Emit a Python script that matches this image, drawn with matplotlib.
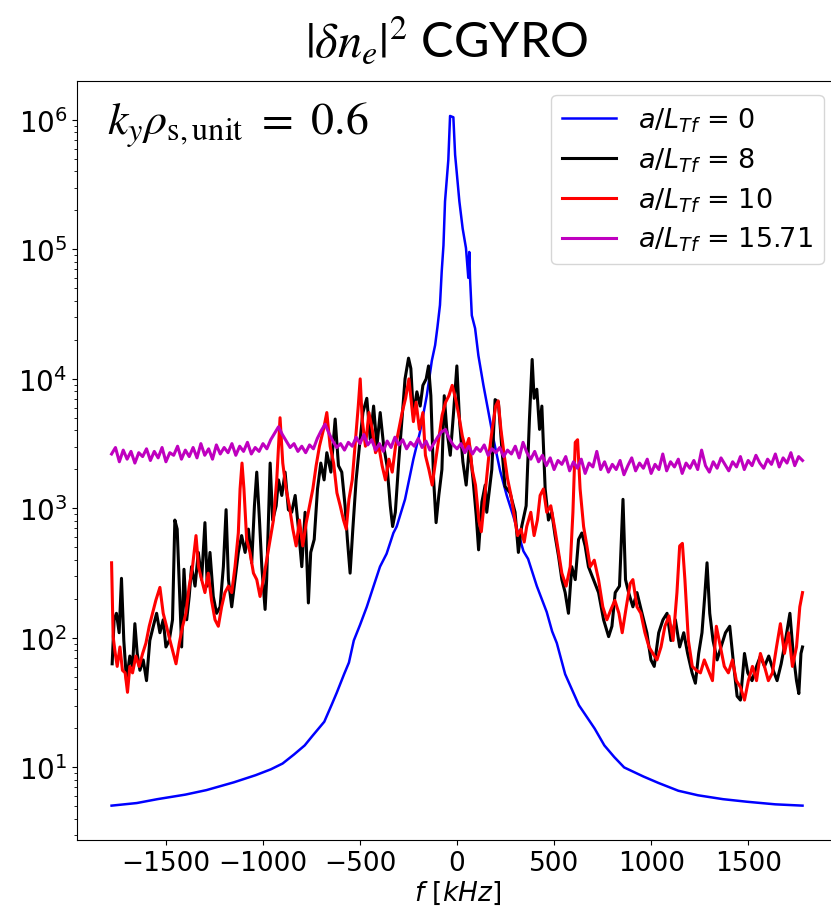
import numpy as np
import matplotlib
matplotlib.use("Agg")
import matplotlib.pyplot as plt

# ---------------- data (log10 of |dn_e|^2) ----------------
f_blue = [-1780, -1650, -1544, -1400, -1291, -1150, -1038, -960, -899, -840,
          -785, -747, -684, -646, -620, -582, -557, -532, -500, -465,
          -430, -397, -363, -328, -311, -268, -225, -191, -156, -130,
          -113, -101, -88, -79, -70, -62, -45, -36, -19, -10,
          -2, 12, 29, 46, 58, 63, 67, 76, 93, 110,
          136, 161, 187, 222, 256, 290, 342, 366, 411, 462,
          490, 514, 557, 628, 709, 759, 810, 861, 960, 1038,
          1140, 1241, 1370, 1494, 1640, 1780]
blue_log10 = [0.705, 0.725, 0.755, 0.79, 0.825, 0.885, 0.94, 0.985, 1.03, 1.10,
              1.17, 1.24, 1.353, 1.484, 1.576, 1.72, 1.81, 1.98, 2.10, 2.24,
              2.40, 2.55, 2.65, 2.81, 2.86, 3.07, 3.38, 3.59, 3.87, 4.14,
              4.26, 4.40, 4.57, 4.83, 5.03, 5.37, 5.69, 6.03, 6.02, 5.73,
              5.60, 5.37, 5.16, 5.01, 4.78, 4.98, 4.78, 4.49, 4.39, 4.18,
              3.95, 3.75, 3.54, 3.29, 3.10, 2.94, 2.67, 2.61, 2.40, 2.20,
              2.05, 1.96, 1.72, 1.48, 1.30, 1.17, 1.08, 1.0, 0.93, 0.88,
              0.82, 0.785, 0.755, 0.735, 0.715, 0.705]

f_black = [-1777, -1767, -1755, -1741, -1729, -1717, -1703, -1686, -1672, -1660,
           -1648, -1634, -1617, -1600, -1583, -1565, -1548, -1531, -1514, -1500,
           -1483, -1466, -1454, -1442, -1431, -1419, -1407, -1393, -1380, -1368,
           -1350, -1333, -1316, -1299, -1287, -1273, -1256, -1239, -1221, -1204,
           -1190, -1178, -1161, -1144, -1127, -1110, -1092, -1075, -1058, -1044,
           -1032, -1018, -1006, -989, -981, -963, -950, -932, -920, -903,
           -886, -869, -852, -834, -817, -800, -783, -766, -754, -736,
           -719, -702, -685, -671, -650, -628, -611, -594, -577, -565,
           -551, -537, -520, -503, -485, -465, -447, -430, -413, -396,
           -378, -361, -344, -332, -318, -301, -284, -268, -250, -238,
           -225, -207, -190, -176, -159, -147, -135, -121, -108, -94,
           -78, -66, -53, -35, -18, -1, 13, 30, 47, 64,
           82, 99, 111, 128, 145, 153, 179, 196, 213, 230,
           247, 273, 299, 316, 333, 356, 373, 387, 397, 411,
           425, 437, 454, 471, 488, 505, 523, 540, 557, 574,
           591, 609, 626, 643, 660, 677, 703, 729, 755, 781,
           798, 815, 837, 855, 868, 884, 906, 927, 953, 978,
           999, 1016, 1039, 1061, 1082, 1102, 1125, 1147, 1168, 1188,
           1211, 1228, 1245, 1262, 1276, 1288, 1302, 1319, 1340, 1360,
           1383, 1405, 1426, 1443, 1460, 1481, 1498, 1520, 1543, 1563,
           1584, 1606, 1629, 1649, 1670, 1692, 1715, 1732, 1749, 1761,
           1772, 1780]
black_log10 = [1.80, 2.14, 2.19, 2.04, 2.46, 1.98, 1.67, 1.86, 1.78, 2.11,
               1.88, 1.75, 1.83, 1.67, 1.98, 2.09, 2.19, 2.04, 2.14, 1.93,
               1.98, 2.14, 2.91, 2.84, 2.40, 1.93, 2.53, 2.14, 2.32, 2.55,
               2.40, 2.66, 2.45, 2.89, 2.40, 2.66, 2.32, 2.19, 2.24, 2.55,
               2.99, 2.45, 2.24, 2.45, 2.66, 2.79, 2.66, 2.84, 2.58, 3.02,
               3.28, 2.91, 2.55, 2.22, 2.45, 3.35, 2.91, 3.02, 3.22, 3.10,
               3.28, 2.99, 2.97, 3.10, 2.84, 2.55, 2.97, 2.27, 2.66, 2.76,
               3.15, 3.35, 3.22, 3.43, 3.28, 3.69, 3.33, 3.28, 3.02, 2.76,
               2.50, 2.84, 3.22, 3.48, 3.74, 3.85, 3.53, 3.79, 3.48, 3.74,
               3.48, 3.33, 3.02, 2.86, 2.97, 3.35, 3.69, 4.00, 4.16, 4.08,
               3.72, 3.90, 3.79, 3.95, 4.00, 4.10, 3.87, 3.23, 2.89, 3.10,
               3.30, 3.87, 3.61, 3.41, 3.74, 4.10, 3.67, 3.36, 3.18, 3.49,
               3.23, 2.94, 2.68, 3.05, 3.18, 2.97, 3.30, 3.84, 3.82, 3.48,
               3.17, 3.12, 2.97, 2.66, 2.86, 3.02, 3.69, 4.15, 3.85, 3.92,
               3.61, 3.79, 3.15, 2.91, 2.97, 2.79, 2.63, 2.45, 2.35, 2.19,
               2.55, 2.45, 2.76, 2.81, 2.71, 2.55, 2.45, 2.35, 2.14, 2.01,
               2.09, 2.35, 2.40, 3.07, 2.45, 2.35, 2.24, 2.35, 2.19, 2.04,
               1.83, 1.78, 2.04, 2.14, 2.19, 1.98, 2.14, 1.93, 2.04, 1.88,
               1.73, 1.65, 1.88, 2.04, 2.32, 2.58, 2.19, 1.98, 1.83, 1.93,
               2.04, 2.09, 1.78, 1.55, 1.52, 1.88, 1.73, 1.67, 1.78, 1.86,
               1.78, 1.86, 1.75, 1.67, 1.80, 1.98, 2.19, 1.88, 1.67, 1.57,
               1.88, 1.93]

f_red = [-1780, -1772, -1761, -1751, -1737, -1724, -1710, -1698, -1686, -1672,
         -1655, -1638, -1620, -1603, -1586, -1569, -1552, -1531, -1514, -1497,
         -1479, -1462, -1448, -1431, -1414, -1397, -1380, -1363, -1345, -1332,
         -1316, -1299, -1282, -1265, -1247, -1230, -1213, -1196, -1178, -1161,
         -1144, -1127, -1118, -1108, -1098, -1084, -1067, -1049, -1032, -1015,
         -998, -981, -963, -946, -929, -912, -898, -881, -864, -846,
         -829, -812, -795, -777, -760, -743, -726, -709, -688, -671,
         -654, -636, -619, -602, -585, -571, -557, -540, -523, -509,
         -499, -489, -472, -454, -437, -420, -403, -386, -369, -351,
         -334, -317, -300, -283, -265, -248, -225, -211, -194, -176,
         -163, -145, -128, -111, -94, -77, -59, -42, -25, -8,
         9, 27, 44, 61, 78, 95, 113, 125, 140, 164,
         181, 199, 212, 226, 243, 260, 278, 295, 312, 329,
         346, 359, 380, 397, 414, 428, 445, 462, 483, 504,
         523, 540, 562, 583, 597, 609, 621, 634, 652, 669,
         686, 707, 729, 751, 772, 793, 813, 834, 851, 872,
         892, 906, 927, 947, 968, 989, 1009, 1030, 1051, 1071,
         1092, 1113, 1133, 1147, 1161, 1174, 1192, 1212, 1233, 1254,
         1274, 1295, 1316, 1336, 1357, 1377, 1398, 1419, 1439, 1460,
         1481, 1501, 1522, 1543, 1563, 1584, 1604, 1625, 1646, 1666,
         1687, 1708, 1728, 1749, 1766, 1780]
red_log10 = [2.58, 2.01, 1.88, 1.78, 1.93, 1.75, 1.73, 1.58, 1.78, 1.73,
             1.86, 1.78, 1.88, 1.96, 2.09, 2.19, 2.29, 2.39, 2.19, 2.09,
             1.98, 1.88, 1.80, 1.96, 2.09, 2.19, 2.40, 2.55, 2.79, 2.55,
             2.45, 2.35, 2.50, 2.29, 2.14, 2.09, 2.24, 2.35, 2.40, 2.35,
             2.55, 2.81, 3.15, 3.35, 3.15, 2.76, 2.66, 2.50, 2.45, 2.32,
             2.45, 2.60, 2.76, 2.91, 3.22, 3.70, 3.35, 3.15, 3.02, 2.84,
             2.71, 2.91, 2.71, 2.89, 3.02, 3.15, 3.33, 3.48, 3.61, 3.74,
             3.48, 3.35, 3.12, 3.02, 2.91, 2.84, 3.07, 3.22, 3.53, 3.79,
             4.00, 3.69, 3.48, 3.74, 3.61, 3.43, 3.48, 3.33, 3.22, 3.38,
             3.28, 3.48, 3.61, 3.74, 3.85, 4.00, 3.67, 3.82, 3.61, 3.74,
             3.41, 3.30, 3.18, 3.36, 3.54, 3.72, 3.82, 3.87, 3.95, 3.85,
             3.72, 3.56, 3.46, 3.54, 3.30, 3.18, 2.90, 2.82, 3.05, 3.41,
             3.61, 3.79, 3.83, 3.61, 3.41, 3.23, 3.10, 2.94, 2.79, 2.84,
             2.74, 2.86, 2.97, 2.79, 2.91, 3.10, 3.15, 2.97, 3.02, 2.84,
             2.66, 2.50, 2.40, 2.55, 2.97, 3.51, 3.53, 3.15, 2.86, 2.71,
             2.55, 2.60, 2.45, 2.24, 2.14, 2.22, 2.29, 2.19, 2.04, 2.24,
             2.42, 2.45, 2.24, 2.19, 2.04, 1.93, 1.88, 1.83, 1.93, 2.09,
             2.17, 1.98, 2.35, 2.71, 2.73, 2.45, 1.98, 1.78, 1.75, 1.73,
             1.83, 1.75, 1.67, 2.09, 1.93, 1.78, 1.73, 1.83, 1.67, 1.62,
             1.52, 1.67, 1.78, 1.67, 1.88, 1.78, 1.67, 1.73, 1.93, 2.11,
             1.88, 2.04, 1.78, 1.93, 2.24, 2.35]

f_mag = list(range(-1780, 1781, 20))
mag_log10 = [3.42, 3.47, 3.36, 3.45, 3.38, 3.44, 3.35, 3.43, 3.40, 3.46,
             3.37, 3.44, 3.39, 3.47, 3.36, 3.43, 3.41, 3.48, 3.38, 3.45,
             3.40, 3.47, 3.39, 3.50, 3.41, 3.46, 3.38, 3.49, 3.42, 3.47,
             3.43, 3.50, 3.41, 3.48, 3.44, 3.51, 3.42, 3.47, 3.44, 3.50,
             3.46, 3.53, 3.58, 3.63, 3.57, 3.52, 3.47, 3.50, 3.44, 3.48,
             3.43, 3.49, 3.46, 3.54, 3.60, 3.65, 3.58, 3.52, 3.47, 3.50,
             3.45, 3.51, 3.48, 3.55, 3.50, 3.57, 3.49, 3.53, 3.45, 3.50,
             3.44, 3.52, 3.47, 3.55, 3.49, 3.53, 3.46, 3.51, 3.48, 3.54,
             3.47, 3.52, 3.45, 3.50, 3.55, 3.59, 3.61, 3.54, 3.49, 3.46,
             3.50, 3.43, 3.48, 3.42, 3.47, 3.44, 3.49, 3.41, 3.46, 3.43,
             3.47, 3.40, 3.45, 3.42, 3.48, 3.39, 3.51, 3.43, 3.38, 3.44,
             3.36, 3.41, 3.33, 3.39, 3.30, 3.37, 3.34, 3.40, 3.29, 3.36,
             3.31, 3.38, 3.27, 3.35, 3.32, 3.44, 3.30, 3.36, 3.28, 3.34,
             3.30, 3.37, 3.26, 3.33, 3.39, 3.29, 3.35, 3.31, 3.38, 3.27,
             3.34, 3.30, 3.42, 3.29, 3.36, 3.32, 3.38, 3.27, 3.35, 3.31,
             3.37, 3.30, 3.45, 3.33, 3.28, 3.36, 3.31, 3.39, 3.34, 3.29,
             3.36, 3.32, 3.40, 3.30, 3.37, 3.33, 3.41, 3.35, 3.31, 3.38,
             3.34, 3.42, 3.32, 3.39, 3.35, 3.43, 3.33, 3.40, 3.37]

labels = [r'$a/L_{Tf}$ = 0', r'$a/L_{Tf}$ = 8', r'$a/L_{Tf}$ = 10', r'$a/L_{Tf}$ = 15.71']
xticks = [-1500, -1000, -500, 0, 500, 1000, 1500]

# ---------------- figure ----------------
fig = plt.figure(figsize=(8.31, 9.12), dpi=100)
ax = fig.add_axes([0.0927, 0.0779, 0.9146, 0.8322])

ax.plot(f_blue, 10 ** np.array(blue_log10), color='#0000ff', lw=1.8, label=labels[0])
ax.plot(f_black, 10 ** np.array(black_log10), color='black', lw=2.2, label=labels[1])
ax.plot(f_red, 10 ** np.array(red_log10), color='#ff0000', lw=2.2, label=labels[2])
ax.plot(f_mag, 10 ** np.array(mag_log10), color='#bf00bf', lw=2.2, label=labels[3])

ax.set_yscale('log')
ax.set_xlim(-1958, 1958)
ax.set_ylim(10 ** 0.44, 10 ** 6.30)
ax.set_xticks(xticks)
ax.tick_params(axis='x', labelsize=19)
ax.tick_params(axis='y', labelsize=20)
ax.set_xlabel(r'$f\ [kHz]$', fontsize=19, labelpad=2)

ax.legend(loc='upper right', fontsize=19.5, borderaxespad=0.5, labelspacing=0.42)

ax.text(0.039, 0.943, r'$k_y\rho_{\mathrm{s,unit}}\ =\ 0.6$', transform=ax.transAxes,
        fontsize=33, math_fontfamily='stix', ha='left', va='center')

fig.text(0.537, 0.956, r'$|\delta n_e|^2$ CGYRO', ha='center', va='center',
         fontsize=35, family='Lato', math_fontfamily='stix')

fig.savefig('out.png', dpi=100)
